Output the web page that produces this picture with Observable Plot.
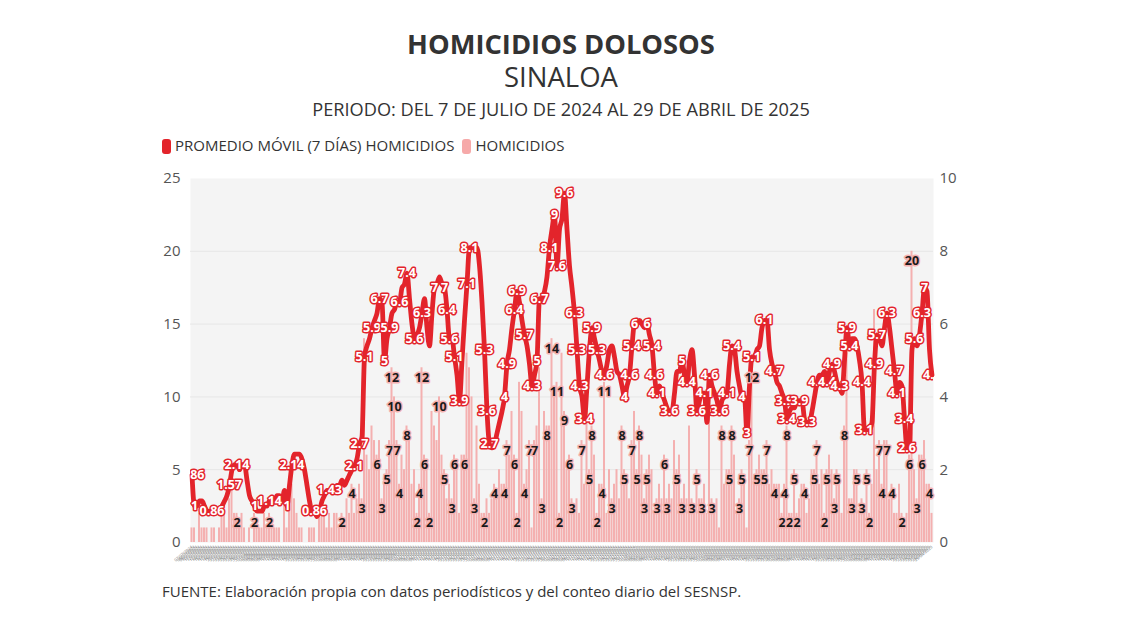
<!DOCTYPE html>
<html><head><meta charset="utf-8">
<script src="https://cdn.jsdelivr.net/npm/d3@7"></script>
<script src="https://cdn.jsdelivr.net/npm/@observablehq/plot@0.6"></script>
<style>
body{margin:0;background:#fff;font-family:"Open Sans",Roboto,sans-serif;}
#wrap{position:relative;width:1122px;height:630px;overflow:hidden;}
.t{position:absolute;left:0;width:1122px;text-align:center;color:#333;line-height:1;white-space:nowrap;}
#legend{position:absolute;left:162px;top:137px;font-size:15px;color:#333;line-height:16px;white-space:nowrap;}
#legend span.sw{display:inline-block;width:9px;height:15px;border-radius:3px;vertical-align:-3px;margin-right:4px;}
#foot{position:absolute;left:162px;top:584px;font-size:15px;color:#333;white-space:nowrap;line-height:1;}
#chart{position:absolute;left:0;top:160px;}
</style></head>
<body><div id="wrap">
<div class="t" style="top:30px;font-weight:700;font-size:27.3px">HOMICIDIOS DOLOSOS</div>
<div class="t" style="top:63px;font-size:27.5px">SINALOA</div>
<div class="t" style="top:100px;font-size:18.2px">PERIODO: DEL 7 DE JULIO DE 2024 AL 29 DE ABRIL DE 2025</div>
<div id="legend"><span class="sw" style="background:#e3242b"></span>PROMEDIO MÓVIL (7 DÍAS) HOMICIDIOS<span class="sw" style="background:#f6a9a9;margin-left:8px"></span>HOMICIDIOS</div>
<div id="chart"></div>
<div id="foot">FUENTE: Elaboración propia con datos periodísticos y del conteo diario del SESNSP.</div>
</div>
<script>
// Homicidios diarios, 7 jul 2024 - 29 abr 2025
const homicidios = [
1,1,0,2,1,1,1, 0,1,1,0,1,2,2, 1,3,4,2,2,1,2, 1,0,1,0,2,1,1, 1,2,1,2,1,1,1,
1,0,3,1,4,4,3, 2,1,1,0,0,1,1, 1,0,2,2,2,1,2, 1,2,2,1,2,1,3, 2,4,2,3,4,3,14,
6,5,8,7,6,7,3, 4,5,7,12,10,7,4, 6,5,8,7,4,5,2, 4,12,6,5,2,9,8, 7,10,6,5,3,4,3,
6,5,2,6,6,13,12, 10,3,8,4,2,2,3, 2,3,4,3,5,4,4, 7,6,9,6,2,11,9, 4,5,7,1,7,8,12,
3,9,8,8,14,10,11, 2,13,9,5,6,3,2, 3,2,7,4,9,5,8, 6,2,4,4,11,2,5, 3,4,5,3,8,5,4,
3,7,9,5,8,6,3, 5,6,5,2,3,4,3, 6,3,4,3,7,5,6, 3,4,3,8,3,2,5, 3,3,4,2,9,3,2,
3,1,8,4,5,5,8, 6,2,3,5,4,1,7, 12,4,5,6,5,5,7, 4,5,4,4,4,2,4, 8,2,2,5,2,3,4,
4,2,3,5,5,7,4, 5,2,5,6,5,3,5, 4,2,8,13,3,3,5, 5,2,3,2,5,2,4, 16,5,7,4,7,7,3,
4,2,2,4,2,1,2, 6,20,5,3,6,6,7, 4,4,2
];
// Promedio móvil de 7 días
const promedio = [
1.86,1,1,1.14,1.14,1,0.86,0.86,0.86,0.86,
0.86,0.86,1,1.14,1.29,1.57,2,2.14,2.14,2,
2.14,2.14,1.71,1.29,1.14,1,0.86,0.86,0.86,1,
1,1.14,1.14,1.14,1.29,1.29,1.14,1.43,1,1.57,
2.14,2.43,2.43,2.43,2.29,2,1.57,1.14,0.86,0.86,
0.71,0.86,1.14,1.29,1.43,1.43,1.43,1.43,1.57,1.57,
1.71,1.57,1.71,1.86,2,2.1,2.3,2.7,2.9,5.1,
5.4,5.6,5.9,6.1,6.3,6.7,6.6,5,5.6,5.9,
6.3,6.4,6.6,6.6,7,7.1,7.4,6.7,6,5.6,
5.7,5.9,6.3,6.7,5.9,5.4,6.3,7,7.1,7.3,
7.1,7,6.4,5.6,5.6,5.1,4.6,3.9,5,6.1,
7.1,8.1,8.1,8.1,8.1,7.6,6.6,5.3,3.6,2.7,
2.6,2.7,3,3.3,3.6,4,4.9,5.3,5.9,6.4,
6.9,6.6,6.1,5.7,5.4,4.9,4.3,4.6,5,6.7,
6.7,6.9,7.3,8.1,8.6,9,7.6,8.6,8.9,9.6,
8.6,7.6,7,6.3,5.3,4.3,4,3.4,4.3,5.3,
5.9,5.6,5.3,5,4.7,4.6,4.9,5.3,5.4,5.1,
4.7,4.6,4.3,4,4.3,4.6,5.4,6,6,6.1,
6,5.9,6,5.7,5.4,4.6,4.1,4.3,4.1,3.9,
3.7,3.6,3.6,4.1,4.7,4.7,5,4.6,4.4,5,
5.3,4.6,3.6,3.9,4.1,4.1,3.3,4.6,4.3,4.1,
3.9,3.6,3.9,4,4.1,4.9,5.4,5.3,4.7,4.3,
4,4,3,4.3,5.1,5.1,5.3,5.4,5.9,6.1,
6.1,5.3,4.9,4.7,4.4,4.3,4.1,3.9,3.4,3.6,
3.7,3.7,3.9,3.9,3.9,3.4,3.3,3.3,3.6,4,
4.4,4.6,4.6,4.7,4.4,4.7,4.9,4.7,4.4,4.3,
4.1,5,5.9,5.4,5.6,5.6,5.4,5,4.4,3.1,
3.1,3.1,3.3,4.9,5.7,5.6,5.4,5.9,6.3,5.9,
5.3,4.7,4.1,4.4,4.3,3.4,2.6,2.6,5.3,5.6,
5.4,5.7,6.3,7,6.9,5.3,4.6
];
// Días (índice) con etiqueta visible
const etiquetasPromedio = [0,1,8,15,18,25,31,38,40,49,55,65,67,69,72,75,77,79,83,86,89,92,97,101,102,103,105,107,110,111,117,118,119,125,126,129,130,133,136,138,139,143,145,146,149,153,154,155,157,160,162,165,173,175,176,177,182,184,185,186,191,196,198,202,205,207,211,214,216,220,222,224,229,233,237,238,243,246,250,254,256,259,262,263,268,269,273,274,278,281,282,285,286,289,292,293,296];
const etiquetasHomicidios = [18,25,31,60,64,68,74,76,78,79,80,81,82,83,86,90,91,92,93,95,99,101,104,105,109,113,117,121,125,126,129,130,133,135,137,140,142,144,146,147,149,151,152,156,159,160,162,164,165,168,172,173,176,178,179,181,182,186,189,190,194,196,200,202,204,208,212,215,216,219,220,223,224,226,229,230,233,236,237,238,239,241,242,245,249,250,253,254,257,258,261,264,266,268,270,271,275,276,278,280,284,287,288,290,292,295];
const ticksIzq = [0,5,10,15,20,25];
const ticksDer = [0,2,4,6,8,10];

const fechas = d3.utcDay.range(new Date(Date.UTC(2024,6,7)), new Date(Date.UTC(2025,3,30)));
const fmt = d3.utcFormat("%d/%m/%Y");
const rows = fechas.map((f,i) => ({fecha: fmt(f), i, h: homicidios[i], p: promedio[i]}));
const k = 25/10;
const rojo = "#e3242b", rosa = "#f4b0b0";
const ma = etiquetasPromedio.map(i => rows[i]);
const hb = etiquetasHomicidios.map(i => rows[i]);

const chart = Plot.plot({
  width: 1122, height: 420,
  marginTop: 18, marginBottom: 38, marginLeft: 190, marginRight: 189,
  style: {fontFamily: "'Open Sans', Roboto, sans-serif", background: "transparent", overflow: "visible"},
  x: {type: "band", domain: rows.map(d => d.fecha), padding: 0.2, label: null},
  y: {domain: [0, 25], label: null},
  marks: [
    Plot.frame({fill: "#f4f4f4", stroke: null}),
    Plot.ruleY([5,10,15,20], {stroke: "#e6e6e6", strokeWidth: 1}),
    Plot.barY(rows, {x: "fecha", y: "h", fill: rosa}),
    Plot.line(rows, {x: "fecha", y: d => d.p * k, stroke: rojo, strokeWidth: 4.8, curve: "monotone-x", strokeLinejoin: "round"}),
    Plot.text(hb, {x: "fecha", y: "h", text: d => String(d.h), dy: 10, fill: "#1a1a1a", stroke: rosa, strokeWidth: 3, fontWeight: 700, fontSize: 12.5}),
    Plot.text(ma, {x: "fecha", y: d => d.p * k, text: d => String(d.p), fill: "white", stroke: rojo, strokeWidth: 3, fontWeight: 700, fontSize: 12.5, clip: true}),
    Plot.axisY({ticks: ticksIzq, tickSize: 0, tickPadding: 10, fontSize: 15, fill: "#555", label: null}),
    Plot.axisY({anchor: "right", ticks: ticksDer.map(v => v * k), tickFormat: v => String(v / k), tickSize: 0, tickPadding: 6, fontSize: 15, fill: "#555", label: null}),
    Plot.axisX({tickRotate: -40, fontSize: 4.2, tickSize: 0, tickPadding: 4, fill: "#777", label: null})
  ]
});
document.getElementById("chart").appendChild(chart);
</script>
</body></html>
